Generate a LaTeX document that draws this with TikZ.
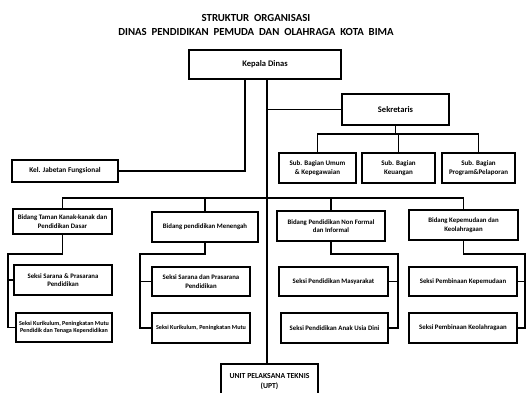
\documentclass[tikz,border=0pt]{standalone}
\usepackage{fontspec}
\setmainfont{Carlito}
\usepackage{tikz}

\begin{document}
\begin{tikzpicture}[x=1pt, y=-1pt,
    kotak/.style={draw, rectangle, line width=1.4pt, inner sep=1pt, align=center, font=\fontsize{6.8}{8.5}\selectfont\bfseries},
    garis/.style={line width=1.1pt}]
    \clip (0,0) rectangle (526,392);
    \fill[white] (0,0) rectangle (526,392);

    \node [align=center, font=\fontsize{10.8}{14}\selectfont\bfseries] (judul) at (256,25) {STRUKTUR\ \ ORGANISASI \\ DINAS\ \ PENDIDIKAN\ \ PEMUDA\ \ DAN\ \ OLAHRAGA\ \ KOTA\ \ BIMA};

    \node [kotak, minimum width=152pt, minimum height=29pt, font=\fontsize{8.5}{10}\selectfont\bfseries] (kadis) at (265,64.5) {Kepala Dinas};
    \node [kotak, minimum width=107pt, minimum height=31pt, font=\fontsize{8.5}{10}\selectfont\bfseries] (sekre) at (395.5,109.5) {Sekretaris};
    \node [kotak, minimum width=106pt, minimum height=22pt, font=\fontsize{7.3}{9}\selectfont\bfseries] (kel) at (65,171) {Kel. Jabetan Fungsional};

    \node [kotak, minimum width=77pt, minimum height=30pt, font=\fontsize{7}{9}\selectfont\bfseries] (sub1) at (317.5,168) {Sub. Bagian Umum \\ \& Kepegawaian};
    \node [kotak, minimum width=73pt, minimum height=30pt, font=\fontsize{7}{9}\selectfont\bfseries] (sub2) at (398.5,168) {Sub. Bagian \\ Keuangan};
    \node [kotak, minimum width=73pt, minimum height=30pt, font=\fontsize{7}{9}\selectfont\bfseries] (sub3) at (478.5,168) {Sub. Bagian \\ Program\&Pelaporan};

    \node [kotak, minimum width=99pt, minimum height=25pt] (bid1) at (62.5,221.5) {Bidang Taman Kanak-kanak dan \\ Pendidikan Dasar};
    \node [kotak, minimum width=106pt, minimum height=30pt] (bid2) at (205,227) {Bidang pendidikan Menengah};
    \node [kotak, minimum width=108pt, minimum height=30pt] (bid3) at (331,226) {Bidang Pendidikan Non Formal \\ dan Informal};
    \node [kotak, minimum width=109pt, minimum height=30pt] (bid4) at (463.5,225) {Bidang Kepemudaan dan \\ Keolahragaan};

    \node [kotak, minimum width=98pt, minimum height=30pt] (s11) at (63,280) {Seksi Sarana \& Prasarana \\ Pendidikan};
    \node [kotak, minimum width=96pt, minimum height=29pt, font=\fontsize{6.1}{7.5}\selectfont\bfseries] (s12) at (64,327.5) {Seksi Kurikulum, Peningkatan Mutu \\ Pendidik dan Tenaga Kependidikan};
    \node [kotak, minimum width=98pt, minimum height=29pt] (s21) at (201,281.5) {Seksi Sarana dan Prasarana \\ Pendidikan};
    \node [kotak, minimum width=98pt, minimum height=30pt, font=\fontsize{6.1}{7.5}\selectfont\bfseries] (s22) at (201,328) {Seksi Kurikulum, Peningkatan Mutu};
    \node [kotak, minimum width=109pt, minimum height=29pt] (s31) at (333.5,281.5) {Seksi Pendidikan Masyarakat};
    \node [kotak, minimum width=107pt, minimum height=30pt] (s32) at (334.5,328) {Seksi Pendidikan Anak Usia Dini};
    \node [kotak, minimum width=108pt, minimum height=29pt] (s41) at (463,281.5) {Seksi Pembinaan Kepemudaan};
    \node [kotak, minimum width=108pt, minimum height=30pt] (s42) at (463,328) {Seksi Pembinaan Keolahragaan};

    \node [kotak, minimum width=97pt, minimum height=36pt, font=\fontsize{7.7}{10}\selectfont\bfseries] (upt) at (269.5,382) {UNIT PELAKSANA TEKNIS \\ (UPT)};

    % garis komando
    \coordinate (batang) at (267,80);
    \coordinate (cabang) at (245,80);
    \coordinate (bus) at (267,198);
    \draw [garis] (cabang) |- (kel.east);
    \draw [garis] (batang) -- (batang |- upt.north);
    \draw [garis] (batang |- sekre.west) -- (sekre.west);

    % sekretariat
    \coordinate (sb) at (395.5,134);
    \draw [garis] (sekre.south) -- (sb);
    \draw [garis] (sub1.north) |- (sb) -| (sub3.north);
    \draw [garis] (sb) -| (sub2.north);

    % bidang
    \draw [garis] (bid1.north) |- (bus) -| (bid4.north);
    \draw [garis] (bid2.north) -- (bid2.north |- bus);
    \draw [garis] (bid3.north) -- (bid3.north |- bus);

    % seksi
    \coordinate (r1) at (8,254);
    \coordinate (r2) at (140,254);
    \coordinate (r3) at (398,254);
    \coordinate (r4) at (525,254);
    \draw [garis] (bid1.south) |- (r1) |- (s12.west);
    \draw [garis] (r1 |- s11.west) -- (s11.west);
    \draw [garis] (bid2.south) |- (r2) |- (s22.west);
    \draw [garis] (r2 |- s21.west) -- (s21.west);
    \draw [garis] (bid3.south) |- (r3) |- (s32.east);
    \draw [garis] (r3 |- s31.east) -- (s31.east);
    \draw [garis] (bid4.south) |- (r4) |- (s42.east);
    \draw [garis] (r4 |- s41.east) -- (s41.east);
\end{tikzpicture}
\end{document}
